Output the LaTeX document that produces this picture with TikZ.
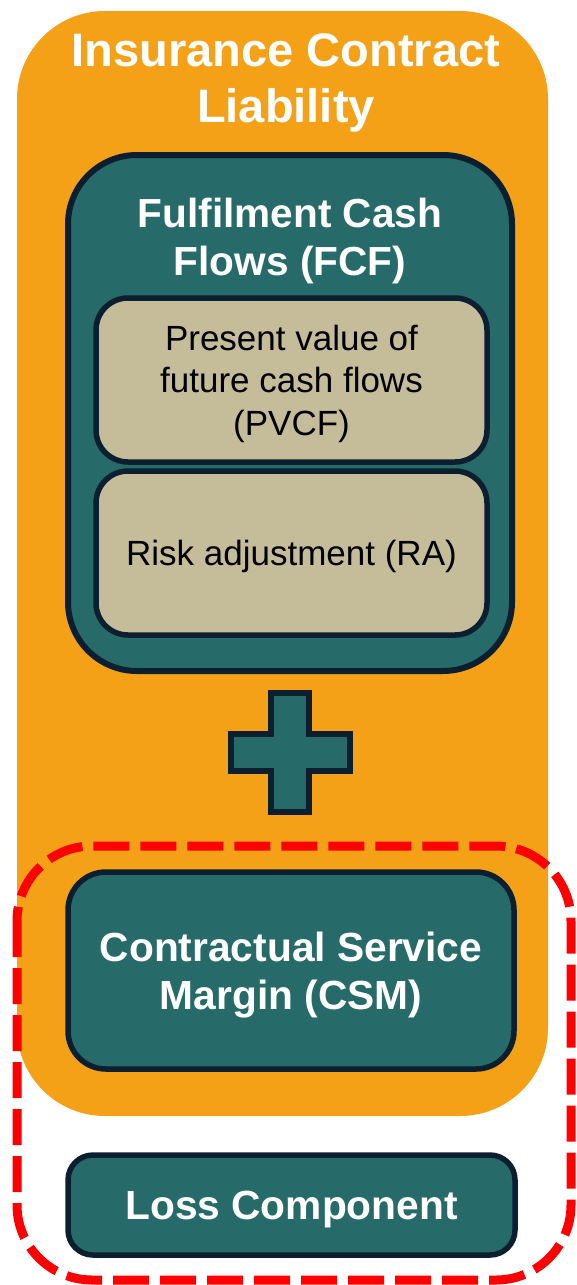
\documentclass[tikz,border=0pt]{standalone}
\usepackage{fontspec}
\setmainfont{Liberation Sans}
\definecolor{liabOrange}{HTML}{F4A118}
\definecolor{fcfTeal}{HTML}{276A6A}
\definecolor{itemBeige}{HTML}{C5BD99}
\definecolor{edgeNavy}{HTML}{0B1F30}
\definecolor{groupRed}{HTML}{FF0000}
\begin{document}
\begin{tikzpicture}[x=1pt,y=-1pt,
  liability/.style={fill=liabOrange, rounded corners=88pt, inner sep=0pt,
    minimum width=531pt, minimum height=1105pt},
  container/.style={draw=edgeNavy, line width=6pt, fill=fcfTeal, rounded corners=69pt,
    inner sep=0pt, minimum width=444pt, minimum height=516pt},
  itembox/.style={draw=edgeNavy, line width=5.5pt, fill=itemBeige, rounded corners=32pt,
    inner sep=0pt, minimum width=391pt, minimum height=164pt, align=center,
    text depth=0pt, font=\fontsize{35}{42.5}\selectfont, text=black},
  tealbox/.style={draw=edgeNavy, line width=5.5pt, fill=fcfTeal, inner sep=0pt,
    align=center, text depth=0pt, text=white,
    font=\bfseries\fontsize{40.7}{48}\selectfont},
  heading/.style={inner sep=0pt, anchor=north, align=center, text=white},
  plussign/.style={draw=edgeNavy, line width=5.5pt, fill=fcfTeal},
  groupline/.style={draw=groupRed, line width=9pt, dash pattern=on 36pt off 11pt,
    rounded corners=75pt}
]
\useasboundingbox (0,0) rectangle (577,1285);

% outer liability block
\node (icl) [liability] at (282.5,563.5) {};
\node (icltitle) [heading, font=\bfseries\fontsize{47}{56}\selectfont]
  at (286,33) {Insurance Contract\\Liability};

% fulfilment cash flows and its two parts
\node (fcf) [container] at (290,413) {};
\node (fcftitle) [heading, font=\bfseries\fontsize{40.6}{48}\selectfont]
  at (290,198) {Fulfilment Cash\\Flows (FCF)};
\node (pvcf) [itembox] at (291.5,380) {Present value of\\future cash flows\\(PVCF)};
\node (ra) [itembox] at (291.5,553) {Risk adjustment (RA)};

% plus sign between the blocks
\draw[plussign] (271,693) -- (309,693) -- (309,734) -- (350,734) -- (350,771)
  -- (309,771) -- (309,812) -- (271,812) -- (271,771) -- (231,771) -- (231,734)
  -- (271,734) -- cycle;

% contractual service margin
\node (csm) [tealbox, rounded corners=38pt, minimum width=446pt, minimum height=197pt]
  at (291,970.5) {Contractual Service\\Margin (CSM)};

% loss component outside the liability block
\node (loss) [tealbox, rounded corners=25pt, minimum width=447pt, minimum height=100pt]
  at (291.5,1205) {Loss Component};

% dashed grouping of CSM and loss component
\draw[groupline] (17,846) rectangle (571,1280);
\end{tikzpicture}
\end{document}
